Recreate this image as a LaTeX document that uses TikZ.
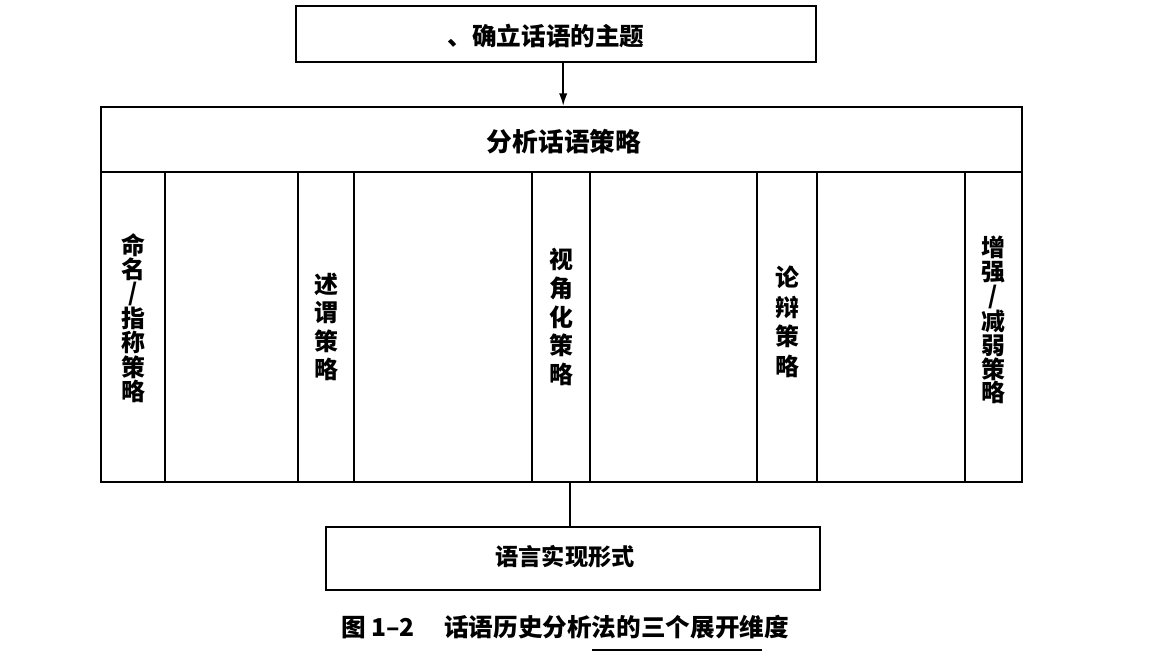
\documentclass[tikz,border=0pt]{standalone}
\usepackage{fontspec}
\setmainfont{Noto Sans CJK SC}
\usetikzlibrary{arrows.meta}

\tikzset{
  box/.style={draw, line width=1.3pt, inner sep=0pt},
  txt/.style={inner sep=0pt, font=\bfseries\fontsize{17.5pt}{20pt}\selectfont},
  col/.style={draw, line width=1.3pt, inner sep=0pt, minimum height=7.75cm},
}

\begin{document}
\begin{tikzpicture}[x=0.025cm,y=-0.025cm]
    \useasboundingbox (0,0) rectangle (1152,655);
    \node[box, minimum width=12.98cm, minimum height=1.4cm] (theme) at (556,34) {};
    \node[txt] (themetxt) at (546,36) {、确立话语的主题};
    \node[box, minimum width=23.03cm, minimum height=9.38cm] (strat) at (561.5,294.5) {};
    \node[txt, font=\bfseries\fontsize{18.3pt}{20pt}\selectfont] (head) at (564,142) {分析话语策略};
    \coordinate (hl) at (0,172);
    \draw[line width=1.3pt] (strat.west |- hl) -- (strat.east |- hl);
    %        x / width / text y / line skip / text
    \foreach \x/\w/\y/\s/\t [count=\i from 1] in {133/64/318/15.4/{命\\名\\/\\指\\称\\策\\略}, 326/56/327/20.2/{述\\谓\\策\\略}, 561/58/317/20.5/{视\\角\\化\\策\\略}, 787/60/322/21/{论\\辩\\策\\略}, 993.5/57/320/17/{增\\强\\/\\减\\弱\\策\\略}}
      {\node[col, minimum width=\w*0.025cm] (c\i) at (\x,327) {};
       \node[txt, align=center, font=\bfseries\fontsize{17pt}{\s pt}\selectfont] (t\i) at (\x,\y) {\t};}
    \node[box, minimum width=12.35cm, minimum height=1.58cm] (form) at (573,558.5) {};
    \node[txt, font=\bfseries\fontsize{16.5pt}{20pt}\selectfont] (formtxt) at (565,557) {语言实现形式};
    \draw[line width=1.3pt, -{Latex[length=9pt,width=6pt]}] ([xshift=0.18cm]theme.south) -- ([xshift=0.18cm]theme.south |- strat.north);
    \draw[line width=1.3pt] ([xshift=-0.08cm]strat.south -| form.north) -- ([xshift=-0.08cm]form.north);
    \node[txt] (cap) at (565,627) {图 1–2\hspace{1.2em}话语历史分析法的三个展开维度};
    \draw[line width=2pt] (592,650) -- (762,650);
\end{tikzpicture}
\end{document}
